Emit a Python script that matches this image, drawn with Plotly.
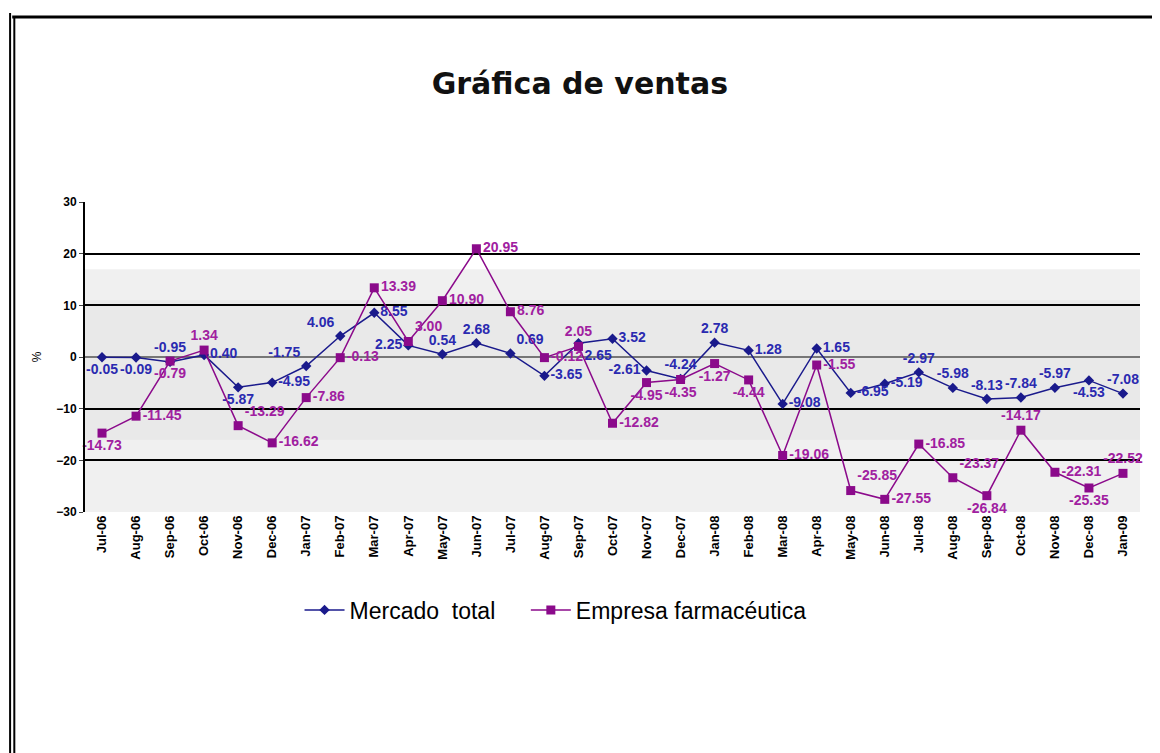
import plotly.graph_objects as go

# months on the category axis
meses = ['Jul-06', 'Aug-06', 'Sep-06', 'Oct-06', 'Nov-06', 'Dec-06', 'Jan-07', 'Feb-07',
         'Mar-07', 'Apr-07', 'May-07', 'Jun-07', 'Jul-07', 'Aug-07', 'Sep-07', 'Oct-07',
         'Nov-07', 'Dec-07', 'Jan-08', 'Feb-08', 'Mar-08', 'Apr-08', 'May-08', 'Jun-08',
         'Jul-08', 'Aug-08', 'Sep-08', 'Oct-08', 'Nov-08', 'Dec-08', 'Jan-09']

mercado_total = [-0.05, -0.09, -0.95, 0.40, -5.87, -4.95, -1.75, 4.06,
                 8.55, 2.25, 0.54, 2.68, 0.69, -3.65, 2.65, 3.52,
                 -2.61, -4.24, 2.78, 1.28, -9.08, 1.65, -6.95, -5.19,
                 -2.97, -5.98, -8.13, -7.84, -5.97, -4.53, -7.08]

empresa = [-14.73, -11.45, -0.79, 1.34, -13.29, -16.62, -7.86, -0.13,
           13.39, 3.00, 10.90, 20.95, 8.76, -0.12, 2.05, -12.82,
           -4.95, -4.35, -1.27, -4.44, -19.06, -1.55, -25.85, -27.55,
           -16.85, -23.37, -26.84, -14.17, -22.31, -25.35, -22.52]

# where each data label sits, as in the original sheet
pos_mercado = ['bottom center', 'bottom center', 'top center', 'middle right', 'bottom center',
               'middle right', 'top left', 'top left', 'middle right', 'middle left',
               'top center', 'top center', 'top right', 'middle right', 'bottom right',
               'middle right', 'middle left', 'top center', 'top center', 'middle right',
               'middle right', 'middle right', 'middle right', 'middle right', 'top center',
               'top center', 'top center', 'top center', 'top center', 'bottom center',
               'top center']
pos_empresa = ['bottom center', 'middle right', 'bottom center', 'top center', 'top right',
               'middle right', 'middle right', 'middle right', 'middle right', 'top right',
               'middle right', 'middle right', 'middle right', 'middle right', 'top center',
               'middle right', 'bottom center', 'bottom center', 'bottom center', 'bottom center',
               'middle right', 'middle right', 'top right', 'middle right', 'middle right',
               'top right', 'bottom center', 'top center', 'middle right', 'bottom center',
               'top center']

azul = '#1a1a8c'
morado = '#8b0a8b'

fig = go.Figure()

fig.add_trace(go.Scatter(
    x=meses, y=mercado_total, name='Mercado  total    ',
    mode='lines+markers+text',
    line=dict(color=azul, width=1.5),
    marker=dict(symbol='diamond', size=8, color=azul),
    text=[f'{v:.2f}' for v in mercado_total], textposition=pos_mercado,
    textfont=dict(family='Arial', size=14, color='#2a2ab0', weight='bold'),
    cliponaxis=False))

fig.add_trace(go.Scatter(
    x=meses, y=empresa, name='Empresa farmacéutica',
    mode='lines+markers+text',
    line=dict(color=morado, width=1.5),
    marker=dict(symbol='square', size=9, color=morado),
    text=[f'{v:.2f}' for v in empresa], textposition=pos_empresa,
    textfont=dict(family='Arial', size=14, color='#a020a0', weight='bold'),
    cliponaxis=False))

# grey band behind the lines
fig.add_shape(type='rect', xref='paper', yref='y', x0=0, x1=1, y0=-30, y1=17,
              fillcolor='#f0f0f0', line_width=0, layer='below')
fig.add_shape(type='rect', xref='paper', yref='y', x0=0, x1=1, y0=-16, y1=11,
              fillcolor='#e9e9e9', line_width=0, layer='below')

# page frame
fig.add_shape(type='line', xref='paper', yref='paper', x0=-0.069, x1=1.03, y0=1.597, y1=1.597,
              line=dict(color='black', width=3))
fig.add_shape(type='line', xref='paper', yref='paper', x0=-0.071, x1=-0.071, y0=1.61, y1=-0.78,
              line=dict(color='black', width=2))
fig.add_shape(type='line', xref='paper', yref='paper', x0=-0.067, x1=-0.067, y0=1.597, y1=-0.78,
              line=dict(color='black', width=2))

fig.update_layout(
    width=1160, height=753,
    paper_bgcolor='white', plot_bgcolor='white',
    margin=dict(l=77, r=28, t=194, b=249),
    title=dict(text='<b>Gráfica de ventas</b>', x=0.493, xanchor='center',
               y=0.9, yanchor='middle',
               font=dict(family='DejaVu Sans', size=30, color='#111111')),
    legend=dict(orientation='h', x=0.446, xanchor='center', y=-0.316, yanchor='middle',
                font=dict(family='Arial', size=23, color='black'),
                itemwidth=40),
    showlegend=True,
)

fig.update_xaxes(
    type='category', tickangle=-90, showgrid=False,
    tickfont=dict(family='Arial', size=13, color='black', weight='bold'),
    showline=False, ticks='', range=[-0.5, 30.5])

fig.update_yaxes(
    range=[-30, 30], dtick=10, showgrid=True, gridcolor='black', gridwidth=1.5,
    zeroline=True, zerolinecolor='#777777', zerolinewidth=2,
    showline=True, linecolor='black', linewidth=2, ticks='outside', ticklen=4,
    tickfont=dict(family='Arial', size=12, color='black', weight='bold'),
    title=dict(text='%', font=dict(family='Arial', size=12, color='black'), standoff=12))

fig.write_html('out.html')
